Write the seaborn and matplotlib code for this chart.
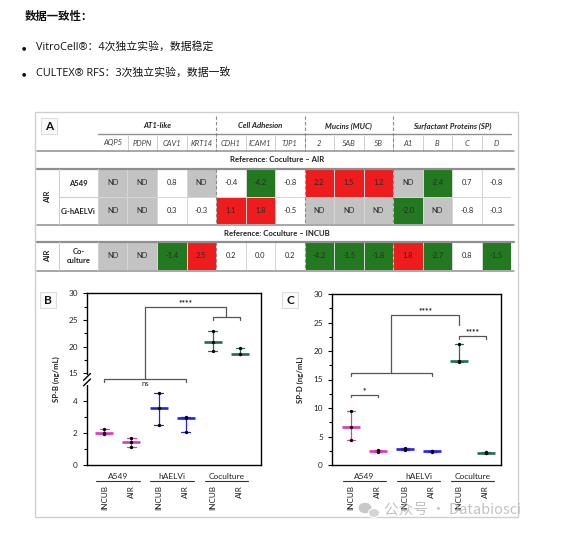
import numpy as np
import pandas as pd
import matplotlib
matplotlib.use("Agg")
import matplotlib.pyplot as plt
import matplotlib.transforms as mtrans
from matplotlib.colors import ListedColormap
from matplotlib.patches import Rectangle, Ellipse
import seaborn as sns

# ---------------- data ----------------
title_cn = "数据一致性："
bullets_cn = ["VitroCell®：4次独立实验，数据稳定",
              "CULTEX® RFS：3次独立实验，数据一致"]
watermark = "公众号 · Databiosci"

gene_groups = ["AT1-like", "Cell Adhesion", "Mucins (MUC)", "Surfactant Proteins (SP)"]
group_sizes = [4, 3, 3, 4]
genes = ["AQP5", "PDPN", "CAV1", "KRT14", "CDH1", "ICAM1", "TJP1",
         "2", "5AB", "5B", "A1", "B", "C", "D"]
air_rows = ["A549", "Ci-hAELVi"]
incub_rows = ["Co-\nculture"]
ref_air = "Reference: Coculture – AIR"
ref_incub = "Reference: Coculture – INCUB"
fc_a549 = [None, None, 0.8, None, -0.4, -4.2, -0.8, 2.2, 1.5, 1.2, None, -2.4, 0.7, -0.8]
fc_haelvi = [None, None, 0.3, -0.3, 1.1, 1.8, -0.5, None, None, None, -2.0, None, -0.8, -0.3]
fc_coculture = [None, None, -1.4, 2.5, 0.2, 0.0, 0.2, -4.2, -1.5, -1.8, 1.8, -2.7, 0.8, -1.5]
fc_threshold = 1.0

cell_lines = ["A549", "hAELVi", "Coculture"]
conditions = ["INCUB", "AIR"]

spb_a549_incub = [2.25, 2.0, 1.95]
spb_a549_air = [1.72, 1.47, 1.15]
spb_haelvi_incub = [4.5, 3.6, 2.5]
spb_haelvi_air = [3.03, 2.93, 2.05]
spb_coculture_incub = [22.9, 20.9, 19.2]
spb_coculture_air = [19.8, 18.65, 18.55]

spd_a549_incub = [9.5, 6.6, 4.3]
spd_a549_air = [2.6, 2.45, 2.35]
spd_haelvi_incub = [3.0, 2.8, 2.6]
spd_haelvi_air = [2.5, 2.4, 2.35]
spd_coculture_incub = [21.3, 18.25, 18.0]
spd_coculture_air = [2.2, 2.1, 2.05]

line_colors = {"A549": "#d63cb4", "hAELVi": "#2323e6", "Coculture": "#1f6e50"}

# ---------------- style ----------------
sns.set_theme(style="white")
FIG_FONT = ["Lato", "DejaVu Sans"]
CN_FONT = ["Noto Sans CJK SC", "DejaVu Sans"]
MIX_FONT = ["Open Sans", "Noto Sans CJK SC", "DejaVu Sans"]
plt.rcParams["font.family"] = FIG_FONT
TXT = "#222222"
GRID = "#8f8f8f"

W, H = 585, 537
fig = plt.figure(figsize=(W / 100, H / 100), dpi=100)
fig.patch.set_facecolor("white")


def px_axes(x0, y0, x1, y1):
    return fig.add_axes([x0 / W, 1 - y1 / H, (x1 - x0) / W, (y1 - y0) / H])


# ---------------- heatmap table ----------------
TX0, TX1 = 98, 511
col_w = (TX1 - TX0) / len(genes)
cmap = ListedColormap(["#c3c3c3", "#ffffff", "#ee1c1c", "#22791f"])


def categorize(vals):
    out = []
    for v in vals:
        if v is None:
            out.append(0)
        elif v > fc_threshold:
            out.append(2)
        elif v < -fc_threshold:
            out.append(3)
        else:
            out.append(1)
    return out


def annot(vals):
    return ["ND" if v is None else f"{v:.1f}" for v in vals]


def draw_heat(ax, rows, labels):
    cat = pd.DataFrame([categorize(r) for r in rows], index=labels, columns=genes)
    ann = np.array([annot(r) for r in rows])
    sns.heatmap(cat, ax=ax, cmap=cmap, vmin=-0.5, vmax=3.5, annot=ann, fmt="",
                cbar=False, linewidths=0.7, linecolor="#d6d6d6",
                xticklabels=False, yticklabels=False,
                annot_kws={"fontsize": 5.4, "color": "#2a2a2a"})
    ax.set_xlabel("")
    ax.set_ylabel("")


ax_air = px_axes(TX0, 169, TX1, 224)
draw_heat(ax_air, [fc_a549, fc_haelvi], air_rows)
ax_inc = px_axes(TX0, 242, TX1, 270)
draw_heat(ax_inc, [fc_coculture], incub_rows)


# ---------------- dot plots ----------------
def dot_panel(ax, values, ylabel):
    rows = []
    for cl in cell_lines:
        for cond in conditions:
            for v in values[cl][cond]:
                rows.append({"group": f"{cl} {cond}", "value": v})
    df = pd.DataFrame(rows)
    order = [f"{cl} {c}" for cl in cell_lines for c in conditions]
    pal = {f"{cl} {c}": line_colors[cl] for cl in cell_lines for c in conditions}
    sns.pointplot(data=df, x="group", y="value", hue="group", order=order,
                  hue_order=order, palette=pal, estimator="median",
                  errorbar=("pi", 100), capsize=0.32, err_kws={"linewidth": 0.9},
                  marker="_", markersize=13, markeredgewidth=1.9, linestyle="none",
                  legend=False, ax=ax)
    sns.stripplot(data=df, x="group", y="value", order=order, color="black",
                  size=2.4, jitter=False, ax=ax, zorder=5)
    ax.set_xticks(range(len(order)))
    ax.set_xticklabels([c for _ in cell_lines for c in conditions], rotation=90,
                       fontsize=5.9, color=TXT)
    ax.tick_params(axis="x", length=0, pad=14.5)
    ax.tick_params(axis="y", which="both", left=True, direction="out",
                   colors="black", labelcolor=TXT, labelsize=5.9, width=0.8)
    ax.tick_params(axis="y", which="major", length=3.2)
    ax.tick_params(axis="y", which="minor", length=2.0)
    ax.set_xlabel("")
    ax.set_ylabel(ylabel, fontsize=5.6, fontweight="bold", color=TXT)
    for sp in ax.spines.values():
        sp.set_color("black")
        sp.set_linewidth(1.0)
        sp.set_visible(True)
    blend = mtrans.blended_transform_factory(ax.transData, ax.transAxes)
    for i, cl in enumerate(cell_lines):
        c = 2 * i + 0.5
        ax.text(c, -0.068, cl, transform=blend, ha="center", va="center",
                fontsize=6.0, color=TXT)
        ax.plot([c - 0.8, c + 0.8], [-0.096, -0.096], transform=blend,
                color="#333333", lw=0.8, clip_on=False)
    return ax


def bracket(ax, x0, x1, y, y_end0, y_end1=None, color="#555555"):
    if y_end1 is None:
        y_end1 = y_end0
    ax.plot([x0, x0, x1, x1], [y_end0, y, y, y_end1], color=color, lw=0.9,
            clip_on=False, zorder=3)


# Panel B (broken y axis)
def fwd_b(y):
    y = np.asarray(y, float)
    return np.where(y <= 5, y * 15.9,
                    np.where(y >= 15, 91.7 + (y - 15) * 5.333, 79.5 + (y - 5) * 1.22))


def inv_b(s):
    s = np.asarray(s, float)
    return np.where(s <= 79.5, s / 15.9,
                    np.where(s >= 91.7, 15 + (s - 91.7) / 5.333, 5 + (s - 79.5) / 1.22))


ax_b = px_axes(87, 293.3, 261, 465)
spb = {"A549": {"INCUB": spb_a549_incub, "AIR": spb_a549_air},
       "hAELVi": {"INCUB": spb_haelvi_incub, "AIR": spb_haelvi_air},
       "Coculture": {"INCUB": spb_coculture_incub, "AIR": spb_coculture_air}}
dot_panel(ax_b, spb, "SP-B (ng/mL)")
ax_b.set_yscale("function", functions=(fwd_b, inv_b))
ax_b.set_ylim(0, 30)
ax_b.set_xlim(-0.64, 5.78)
ax_b.set_yticks([0, 2, 4, 15, 20, 25, 30], labels=["0", "2", "4", "15", "20", "25", "30"])
ax_b.set_yticks([1, 3, 17.5, 22.5, 27.5], minor=True)
ax_b.yaxis.set_label_coords(-0.156, 0.5)
# axis break marks
yb = 0.497
ax_b.add_patch(Rectangle((-0.012, yb - 0.03), 0.024, 0.06, transform=ax_b.transAxes,
                         facecolor="white", edgecolor="none", clip_on=False, zorder=6))
for dy in (-0.016, 0.016):
    ax_b.plot([-0.02, 0.02], [yb + dy - 0.02, yb + dy + 0.02], transform=ax_b.transAxes,
              color="black", lw=1.0, clip_on=False, zorder=7)
bracket(ax_b, 0, 3, 10.3, 8.1)
ax_b.text(1.5, 6.4, "ns", ha="center", va="center", fontsize=5.6, color=TXT)
bracket(ax_b, 1.5, 4.5, 27.5, 10.3, 25.5)
bracket(ax_b, 4, 5, 25.5, 25.0)
ax_b.text(3.0, 27.6, "****", ha="center", va="bottom", fontsize=6.0,
          fontweight="bold", color=TXT)

# Panel C
ax_c = px_axes(332.3, 294, 501, 465)
spd = {"A549": {"INCUB": spd_a549_incub, "AIR": spd_a549_air},
       "hAELVi": {"INCUB": spd_haelvi_incub, "AIR": spd_haelvi_air},
       "Coculture": {"INCUB": spd_coculture_incub, "AIR": spd_coculture_air}}
dot_panel(ax_c, spd, "SP-D (ng/mL)")
ax_c.set_ylim(0, 30)
ax_c.set_xlim(-0.69, 5.56)
ax_c.set_yticks([0, 5, 10, 15, 20, 25, 30], labels=["0", "5", "10", "15", "20", "25", "30"])
ax_c.set_yticks([2.5, 7.5, 12.5, 17.5, 22.5, 27.5], minor=True)
ax_c.yaxis.set_label_coords(-0.165, 0.5)
bracket(ax_c, 0, 1, 12.3, 11.9)
ax_c.text(0.5, 12.5, "*", ha="center", va="bottom", fontsize=6.0,
          fontweight="bold", color=TXT)
bracket(ax_c, 0, 3, 16.2, 15.6)
bracket(ax_c, 1.5, 4, 26.4, 16.2, 24.6)
ax_c.text(2.75, 26.5, "****", ha="center", va="bottom", fontsize=6.0,
          fontweight="bold", color=TXT)
bracket(ax_c, 4, 5, 22.7, 22.1)
ax_c.text(4.5, 22.8, "****", ha="center", va="bottom", fontsize=6.0,
          fontweight="bold", color=TXT)

# ---------------- overlay: text, table rules, frame ----------------
ov = fig.add_axes([0, 0, 1, 1])
ov.set_xlim(0, W)
ov.set_ylim(H, 0)
ov.axis("off")

ov.text(25, 16, title_cn, family=CN_FONT, fontsize=8.2, fontweight="bold",
        color="#111111", va="center", ha="left")
for i, b in enumerate(bullets_cn):
    y = 47.5 + i * 25.7
    ov.text(24, y, "●", family=["DejaVu Sans"], fontsize=3.6, color="#111111",
            va="center", ha="center")
    ov.text(36, y, b, family=MIX_FONT, fontsize=7.8, color="#111111", va="center")

# figure frame
ov.add_patch(Rectangle((35, 112), 483, 405, facecolor="none", edgecolor="#cfcfcf", lw=1.0))

# panel letters
for lx, ly, lt in [(49, 126, "A"), (48, 300, "B"), (290, 300, "C")]:
    ov.add_patch(Rectangle((lx - 8, ly - 8), 16, 16, facecolor="#fafafa",
                           edgecolor="#dddddd", lw=0.8))
    ov.text(lx, ly, lt, fontsize=8.5, fontweight="bold", color="#111111",
            ha="center", va="center")

# group headers
start = 0
bounds = []
for g, n in zip(gene_groups, group_sizes):
    xa = TX0 + start * col_w
    xb = TX0 + (start + n) * col_w
    ov.text((xa + xb) / 2, 126, g, fontsize=5.6, fontweight="bold", style="italic",
            color=TXT, ha="center", va="center")
    start += n
    bounds.append(xb)
for i, gname in enumerate(genes):
    ov.text(TX0 + (i + 0.5) * col_w, 143, gname, fontsize=5.5, style="italic",
            color="#444444", ha="center", va="center")
    if i > 0:
        ov.plot([TX0 + i * col_w] * 2, [136, 151], color="#cfcfcf", lw=0.7)

ov.plot([TX0, TX1], [133.5, 133.5], color=GRID, lw=1.0)
for yy, lw in [(151, 1.1), (168.5, 1.6), (224.5, 1.1), (242, 1.6), (270.5, 1.1)]:
    ov.plot([37, 514], [yy, yy], color=GRID, lw=lw)
ov.plot([59, 98], [197, 197], color="#cfcfcf", lw=0.8)
for xx in (59, 98):
    ov.plot([xx, xx], [169, 224], color="#cfcfcf", lw=0.8)
    ov.plot([xx, xx], [242, 270], color="#cfcfcf", lw=0.8)

for xb in bounds[:-1]:
    for ya, yb2 in [(116, 151), (169, 224), (242, 270)]:
        ov.plot([xb, xb], [ya, yb2], color="#8a8a8a", lw=0.8, linestyle=(0, (3, 2)))

ov.text(277, 160, ref_air, fontsize=5.6, fontweight="bold", color=TXT,
        ha="center", va="center")
ov.text(277, 233, ref_incub, fontsize=5.6, fontweight="bold", color=TXT,
        ha="center", va="center")

for yy, lab in zip([183, 211], air_rows):
    ov.text(78.5, yy, lab, fontsize=5.5, fontweight="bold", color=TXT,
            ha="center", va="center")
ov.text(78.5, 256, incub_rows[0], fontsize=5.5, fontweight="bold", color=TXT,
        ha="center", va="center", linespacing=1.2)
ov.text(48, 197, "AIR", fontsize=5.5, fontweight="bold", color=TXT, rotation=90,
        ha="center", va="center")
ov.text(48, 256, "AIR", fontsize=5.5, fontweight="bold", color=TXT, rotation=90,
        ha="center", va="center")

# watermark
ov.add_patch(Ellipse((365, 508), 13, 10.5, facecolor="#c9c9c9", edgecolor="none"))
ov.add_patch(Ellipse((374, 513), 11, 9, facecolor="#d4d4d4", edgecolor="white", lw=0.8))
ov.text(384, 510, watermark, family=CN_FONT, fontsize=10.5, color="#b8b8b8",
        ha="left", va="center", alpha=0.85)

fig.savefig("out.png", dpi=100)
